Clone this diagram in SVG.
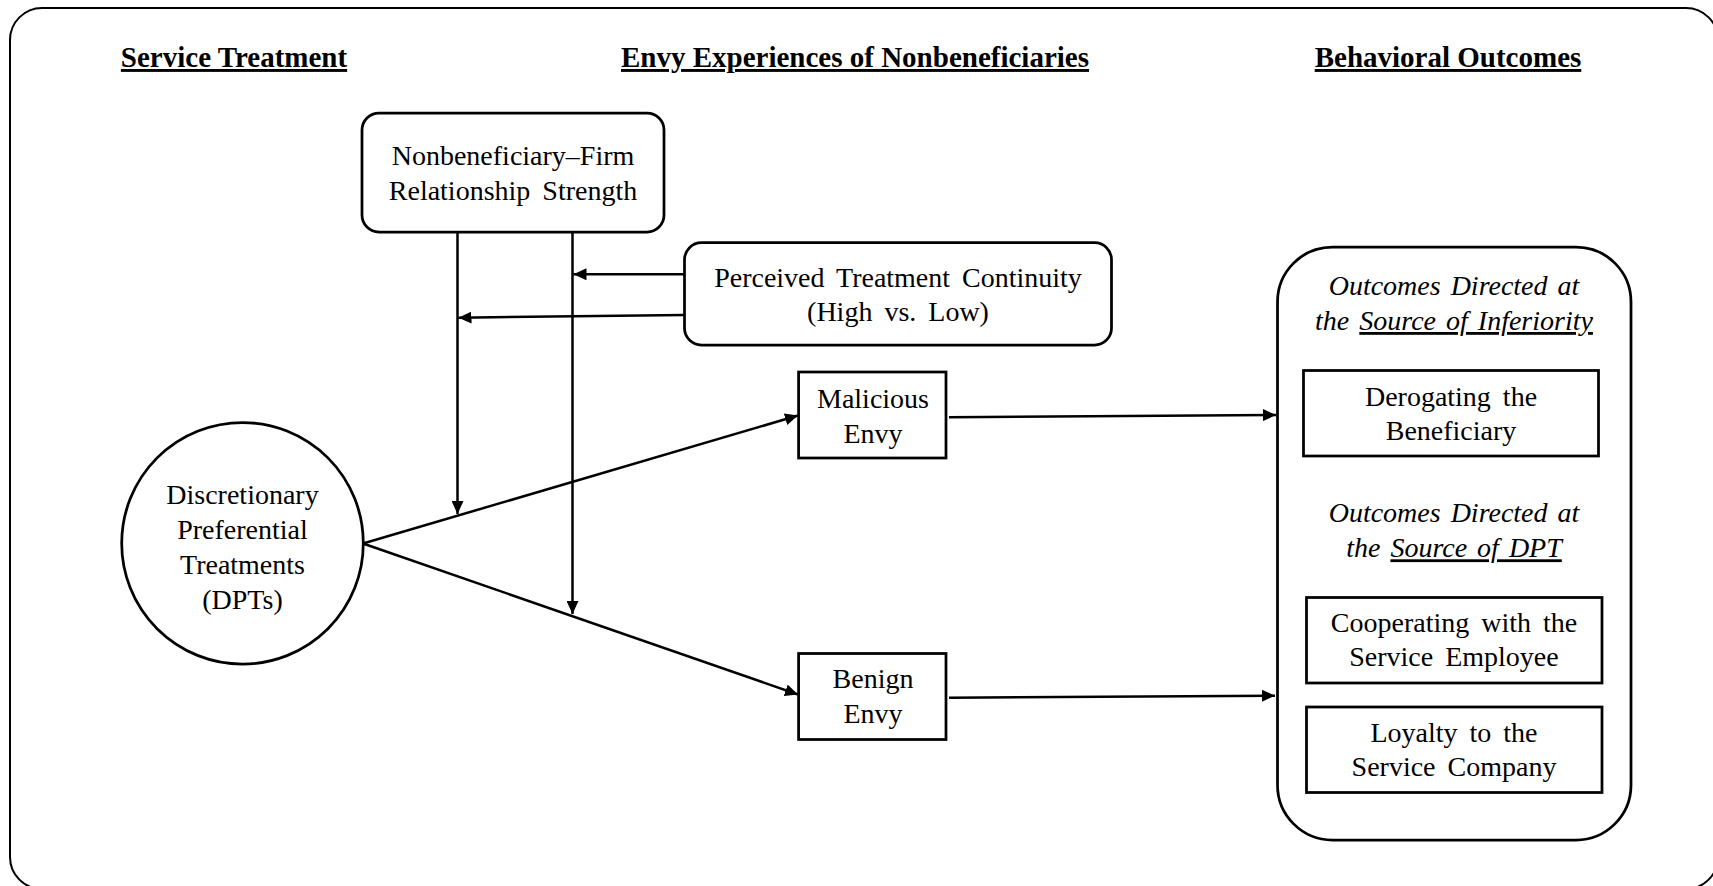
<svg xmlns="http://www.w3.org/2000/svg" width="1713" height="886" viewBox="0 0 1713 886">
<defs>
<style>
text{font-family:"Liberation Serif","Times New Roman",serif;fill:#000;text-decoration-skip-ink:none;}
.hdr{font-size:29px;font-weight:bold;text-anchor:middle;text-decoration:underline;text-decoration-thickness:2.5px;text-decoration-skip-ink:none;}
.t{font-size:28px;text-anchor:middle;word-spacing:5px;}
.it{font-size:28px;font-style:italic;text-anchor:middle;word-spacing:3px;}
.u{text-decoration:underline;text-decoration-skip-ink:none;}
.box{fill:#fff;stroke:#000;stroke-width:2.75;}
.conn{fill:none;stroke:#000;stroke-width:2.5;}
</style>
<marker id="arr" markerUnits="userSpaceOnUse" markerWidth="14" markerHeight="12" refX="13" refY="6" orient="auto">
<path d="M0,0 L13,6 L0,12 z" fill="#000"/>
</marker>
</defs>
<rect x="0" y="0" width="1713" height="886" fill="#fff"/>
<rect id="frame" x="10" y="8" width="1708" height="881" rx="32" ry="32" fill="none" stroke="#000" stroke-width="2"/>

<g id="headers">
<text class="hdr" x="234" y="67">Service Treatment</text>
<text class="hdr" x="855" y="67">Envy Experiences of Nonbeneficiaries</text>
<text class="hdr" x="1448" y="67">Behavioral Outcomes</text>
</g>

<g id="connectors">
<line class="conn" x1="457.5" y1="232" x2="457.5" y2="514" marker-end="url(#arr)"/>
<line class="conn" x1="572.5" y1="232" x2="572.5" y2="614" marker-end="url(#arr)"/>
<line class="conn" x1="684" y1="274.3" x2="573.5" y2="274.3" marker-end="url(#arr)"/>
<line class="conn" x1="684" y1="315" x2="458.5" y2="317.7" marker-end="url(#arr)"/>
<line class="conn" x1="363" y1="543.5" x2="798" y2="415.5" marker-end="url(#arr)"/>
<line class="conn" x1="363" y1="543.5" x2="798" y2="694.5" marker-end="url(#arr)"/>
<line class="conn" x1="949" y1="417.3" x2="1276" y2="415" marker-end="url(#arr)"/>
<line class="conn" x1="949" y1="697.7" x2="1275" y2="695.7" marker-end="url(#arr)"/>
</g>

<g id="node-relationship">
<rect class="box" x="362" y="113" width="302" height="119" rx="17" ry="17"/>
<text class="t" x="513" y="165">Nonbeneficiary–Firm</text>
<text class="t" x="513" y="200">Relationship Strength</text>
</g>

<g id="node-continuity">
<rect class="box" x="684.5" y="242.7" width="427" height="102.3" rx="17" ry="17"/>
<text class="t" x="898" y="286.5">Perceived Treatment Continuity</text>
<text class="t" x="898" y="321">(High vs. Low)</text>
</g>

<g id="node-dpt">
<circle cx="242.5" cy="543.3" r="120.8" fill="#fff" stroke="#000" stroke-width="2.75"/>
<text class="t" x="242.5" y="504">Discretionary</text>
<text class="t" x="242.5" y="539">Preferential</text>
<text class="t" x="242.5" y="574">Treatments</text>
<text class="t" x="242.5" y="609">(DPTs)</text>
</g>

<g id="node-malicious">
<rect class="box" x="798.6" y="372" width="147.4" height="86" />
<text class="t" x="873" y="408">Malicious</text>
<text class="t" x="873" y="443">Envy</text>
</g>

<g id="node-benign">
<rect class="box" x="798.6" y="653.5" width="147.4" height="86" />
<text class="t" x="873" y="688">Benign</text>
<text class="t" x="873" y="723">Envy</text>
</g>

<g id="node-outcomes">
<rect class="box" x="1277.5" y="247" width="353.5" height="593" rx="55" ry="55" stroke-width="3"/>
<text class="it" x="1454" y="295">Outcomes Directed at</text>
<text class="it" x="1454" y="330">the <tspan class="u">Source of Inferiority</tspan></text>
<text class="it" x="1454" y="521.7">Outcomes Directed at</text>
<text class="it" x="1454" y="557.3">the <tspan class="u">Source of DPT</tspan></text>
</g>

<g id="node-derogating">
<rect class="box" x="1303.5" y="370.5" width="295" height="85.5"/>
<text class="t" x="1451" y="406">Derogating the</text>
<text class="t" x="1451" y="440">Beneficiary</text>
</g>

<g id="node-cooperating">
<rect class="box" x="1306.5" y="597.5" width="295.5" height="85.5"/>
<text class="t" x="1454" y="631.7">Cooperating with the</text>
<text class="t" x="1454" y="666">Service Employee</text>
</g>

<g id="node-loyalty">
<rect class="box" x="1306.5" y="707" width="295.5" height="85.5"/>
<text class="t" x="1454" y="741.7">Loyalty to the</text>
<text class="t" x="1454" y="776">Service Company</text>
</g>
</svg>
